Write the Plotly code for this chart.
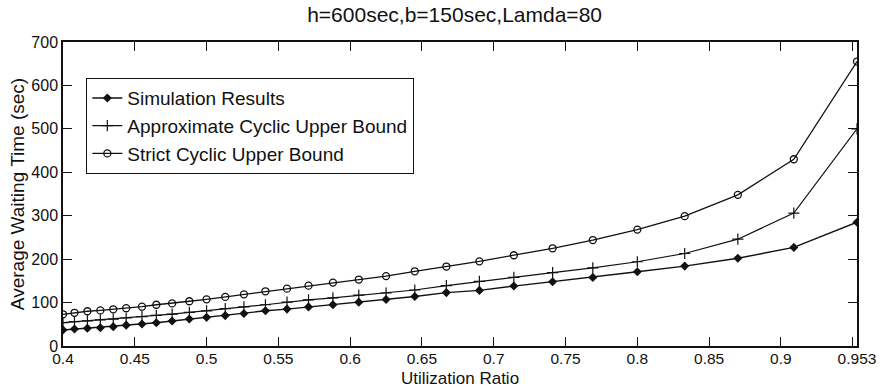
import plotly.graph_objects as go

utilization = [0.400, 0.408, 0.417, 0.426, 0.435, 0.444, 0.455, 0.465, 0.476, 0.488,
               0.500, 0.513, 0.526, 0.541, 0.556, 0.571, 0.588, 0.606, 0.625, 0.645,
               0.667, 0.690, 0.714, 0.741, 0.769, 0.800, 0.833, 0.870, 0.909, 0.953]

simulation = [37, 39, 41, 42, 44.5, 48, 50.5, 53.5, 57.5, 62,
              66, 70, 75, 81, 85, 90, 95, 101, 107, 114,
              123, 128, 138, 148, 158, 171, 184, 202, 227, 285]

approx_bound = [54, 56, 58, 60, 62, 64.5, 67.5, 70.5, 73.5, 77.5,
                81, 86, 90, 95, 101, 106, 111, 117, 122, 129,
                139, 149, 158, 169, 180, 194, 213, 246, 306, 500]

strict_bound = [73, 76.5, 80, 82, 84.5, 87, 90.5, 95, 98, 103,
                107.5, 113, 119, 126, 132, 139, 146, 153, 161, 172,
                183, 195, 209, 225, 244, 268, 299, 348, 430, 655]

x_tickvals = [0.4, 0.45, 0.5, 0.55, 0.6, 0.65, 0.7, 0.75, 0.8, 0.85, 0.9, 0.95, 0.953]
x_ticktext = ["0.4", "0.45", "0.5", "0.55", "0.6", "0.65", "0.7", "0.75", "0.8", "0.85", "0.9", "", "0.953"]
y_tickvals = [0, 100, 200, 300, 400, 500, 600, 700]

title_text = "h=600sec,b=150sec,Lamda=80"
x_title = "Utilization Ratio"
y_title = "Average Waiting Time (sec)"

ink = "#111111"
font_family = "Liberation Sans, Arial, Helvetica, sans-serif"

fig = go.Figure()
fig.add_trace(go.Scatter(
    x=utilization, y=simulation, name="Simulation Results", mode="lines+markers",
    line=dict(color=ink, width=1.4),
    marker=dict(symbol="diamond", size=7, color=ink, line=dict(width=0))))
fig.add_trace(go.Scatter(
    x=utilization, y=approx_bound, name="Approximate Cyclic Upper Bound", mode="lines+markers",
    line=dict(color=ink, width=1.2),
    marker=dict(symbol="cross-thin-open", size=8, color=ink, line=dict(width=1.2, color=ink))))
fig.add_trace(go.Scatter(
    x=utilization, y=strict_bound, name="Strict Cyclic Upper Bound", mode="lines+markers",
    line=dict(color=ink, width=1.3),
    marker=dict(symbol="circle-open", size=7, color=ink, line=dict(width=1.3, color=ink))))

fig.update_layout(
    width=881, height=388,
    margin=dict(l=63, r=24, t=42, b=42, autoexpand=False),
    paper_bgcolor="white", plot_bgcolor="white",
    font=dict(family=font_family, color=ink, size=16),
    title=dict(text=title_text, x=0.516, xanchor="center", y=0.962, yanchor="middle",
               font=dict(size=21, color=ink)),
    showlegend=True,
    legend=dict(x=0.029, y=0.882, xanchor="left", yanchor="top",
                bordercolor=ink, borderwidth=1.3, bgcolor="white",
                font=dict(size=19, color=ink), tracegroupgap=0,
                itemwidth=30),
    annotations=[dict(text=x_title, xref="paper", yref="paper", x=0.5, y=0,
                      xanchor="center", yanchor="middle", yshift=-32, showarrow=False,
                      font=dict(size=17, color=ink))],
)
fig.update_xaxes(
    range=[0.4, 0.953], tickvals=x_tickvals, ticktext=x_ticktext,
    ticks="inside", ticklen=9, tickwidth=1.3, tickcolor=ink,
    showline=True, linecolor=ink, linewidth=1.5, mirror="ticks",
    showgrid=False, zeroline=False, automargin=False,
    ticklabelstandoff=-2,
    tickfont=dict(size=15.5, color=ink),
)
fig.update_yaxes(
    range=[0, 700], tickvals=y_tickvals,
    ticks="inside", ticklen=9, tickwidth=1.3, tickcolor=ink,
    showline=True, linecolor=ink, linewidth=1.5, mirror="ticks",
    showgrid=False, zeroline=False, automargin=False,
    tickfont=dict(size=16, color=ink),
    title=dict(text=y_title, font=dict(size=19, color=ink), standoff=2),
)

fig.write_html("out.html")
